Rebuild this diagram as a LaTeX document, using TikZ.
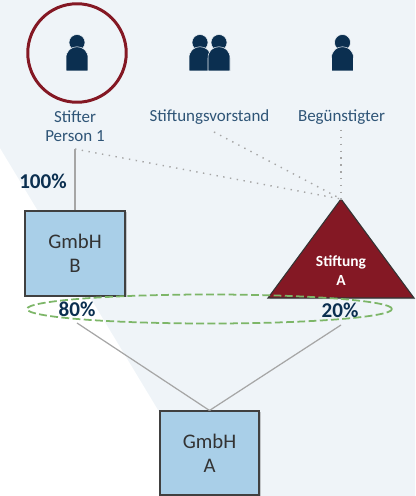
\documentclass[tikz,border=0pt]{standalone}
\usepackage{fontspec}
\setmainfont{Carlito}
\usetikzlibrary{positioning,shadows,shapes.geometric}
\definecolor{paleblue}{HTML}{EFF4F8}
\definecolor{boxblue}{HTML}{A9CFE8}
\definecolor{navy}{HTML}{0B2F50}
\definecolor{labelblue}{HTML}{2F5577}
\definecolor{darkred}{HTML}{841824}
\definecolor{linegray}{HTML}{A6A6A6}
\definecolor{dashgreen}{HTML}{7DB668}
\begin{document}
\begin{tikzpicture}
\tikzstyle{softshadow}=[drop shadow={shadow xshift=0.9pt,shadow yshift=-0.7pt,opacity=.4}]
\tikzstyle{gmbh}=[rectangle,draw=black!75,line width=0.6pt,fill=boxblue,text=black!80,align=center,font=\fontsize{11.8}{13.6}\selectfont,softshadow]
\tikzstyle{caption}=[text=labelblue,align=center,font=\fontsize{9.65}{10.8}\selectfont,inner sep=0pt]
\tikzstyle{share}=[text=navy,font=\fontsize{12}{12}\selectfont\bfseries,inner sep=0pt]
\tikzstyle{link}=[draw=linegray,line width=0.7pt]
\tikzstyle{dots}=[draw=linegray,line width=0.8pt,dash pattern=on 0.8pt off 3.1pt]
\tikzstyle{icon}=[fill=navy,draw=paleblue,line width=0.3pt]
\useasboundingbox (0,0) rectangle (8.3,9.92);
\fill[paleblue] (4.2,0) -- (0,6.96) -- (0,9.92) -- (8.3,9.92) -- (8.3,0) -- cycle;

% persons
\node[circle,draw=darkred,line width=1.7pt,minimum size=1.97cm,inner sep=0pt] (ring) at (1.54,8.86) {};
\fill[icon] (1.54,9.07) circle (0.16);
\fill[icon] (1.32,8.5) -- (1.32,8.76) .. controls (1.32,9.06) and (1.76,9.06) .. (1.76,8.76) -- (1.76,8.5) -- cycle;
\fill[icon] (4.0,9.07) circle (0.16);
\fill[icon] (3.78,8.5) -- (3.78,8.76) .. controls (3.78,9.06) and (4.22,9.06) .. (4.22,8.76) -- (4.22,8.5) -- cycle;
\fill[icon] (4.38,9.07) circle (0.16);
\fill[icon] (4.16,8.5) -- (4.16,8.76) .. controls (4.16,9.06) and (4.6,9.06) .. (4.6,8.76) -- (4.6,8.5) -- cycle;
\fill[icon] (6.85,9.07) circle (0.16);
\fill[icon] (6.63,8.5) -- (6.63,8.76) .. controls (6.63,9.06) and (7.07,9.06) .. (7.07,8.76) -- (7.07,8.5) -- cycle;

\node[caption] (stifter) at (1.5,7.4) {Stifter\\Person 1};
\node[caption] (vorstand) at (4.19,7.57) {Stiftungsvorstand};
\node[caption] (beg) at (6.83,7.57) {Begünstigter};

\coordinate (s1) at (1.5,6.94);
\coordinate (v1) at (4.28,7.28);
\coordinate (b1) at (6.82,7.32);
\coordinate (apex) at (6.82,5.94);
\coordinate (left) at (5.36,3.96);
\coordinate (right) at (8.28,3.96);
\coordinate (l80) at (1.54,3.46);
\coordinate (l20) at (6.82,3.42);

\node[gmbh,minimum width=2cm,minimum height=1.7cm] (B) at (1.5,4.85) {GmbH\\B};
\node[gmbh,minimum width=1.98cm,minimum height=1.68cm] (A) at (4.19,0.86) {GmbH\\A};

\draw[fill=darkred,draw=black!80,line width=0.6pt,softshadow] (apex) -- (right) -- (left) -- cycle;
\node[text=white,align=center,font=\fontsize{8.8}{10.8}\selectfont\bfseries,inner sep=0pt] (stiftung) at (6.82,4.5) {Stiftung\\A};

\draw[link] (s1) -- (B.north);
\draw[dots] (s1) -- (apex);
\draw[dots] (v1) -- (apex);
\draw[dots] (b1) -- (apex);
\draw[link] (l80) -- (A.north);
\draw[link] (l20) -- (A.north);

\node[draw=dashgreen,line width=1pt,dash pattern=on 4.5pt off 1.9pt,ellipse,minimum width=7.3cm,minimum height=0.58cm,inner sep=0pt] (group) at (4.19,3.74) {};
\node[share] (p100) at (0.86,6.3) {100\%};
\node[share] (p80) at (1.54,3.74) {80\%};
\node[share] (p20) at (6.8,3.72) {20\%};
\end{tikzpicture}
\end{document}
